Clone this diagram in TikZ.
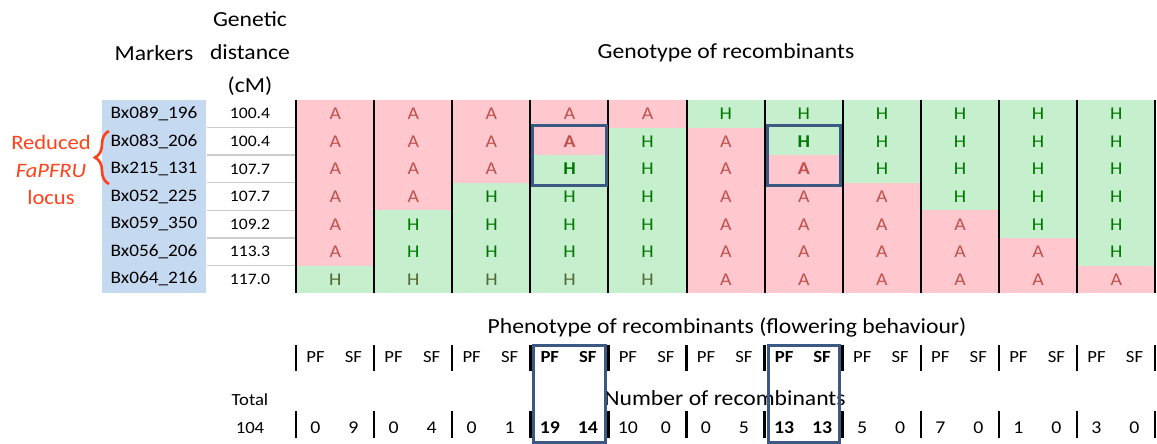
\documentclass[tikz,border=0pt]{standalone}
\usepackage{fontspec}
\setmainfont{Carlito}[FakeStretch=1.1]
\usetikzlibrary{positioning,fit,decorations.pathreplacing}
\definecolor{pinkfill}{RGB}{255,199,206}
\definecolor{greenfill}{RGB}{198,239,206}
\definecolor{markerblue}{RGB}{197,217,241}
\definecolor{Ared}{RGB}{192,80,77}
\definecolor{Hgreen}{RGB}{0,120,0}
\definecolor{Holive}{RGB}{84,104,50}
\definecolor{boxblue}{RGB}{59,89,130}
\definecolor{locusred}{RGB}{255,64,25}

\begin{document}
\begin{tikzpicture}[x=1pt, y=-1pt,
    head/.style={font=\fontsize{21.5}{33}\selectfont, align=center},
    marker/.style={font=\fontsize{17.5}{20}\selectfont},
    dist/.style={font=\fontsize{16}{18}\selectfont},
    cell/.style={anchor=north west, inner sep=0pt, minimum width=78.1pt, minimum height=27.57pt, font=\fontsize{18}{20}\selectfont},
    cellA/.style={cell, fill=pinkfill, text=Ared, node contents=A},
    cellAb/.style={cellA, font=\fontsize{18}{20}\selectfont\bfseries},
    cellH/.style={cell, fill=greenfill, text=Hgreen, node contents=H},
    cellHb/.style={cellH, font=\fontsize{18}{20}\selectfont\bfseries},
    cellHo/.style={cellH, text=Holive},
    pfn/.style={font=\fontsize{17}{19}\selectfont},
    pfb/.style={font=\fontsize{17}{19}\selectfont\bfseries},
    numn/.style={font=\fontsize{18}{20}\selectfont},
    numb/.style={font=\fontsize{18}{20}\selectfont\bfseries},
    colrule/.style={line width=2pt, black},
    pickbox/.style={draw=boxblue, line width=3pt}]
    \useasboundingbox (0,0) rectangle (1157,444);

    % headings
    \node[head] (markers) at (154,53) {Markers};
    \node[head] (gendist) at (250,54) {Genetic\\distance\\(cM)};
    \node[head] (genotype) at (726,53) {Genotype of recombinants};
    \node[head, text=locusred, font=\fontsize{20.5}{27.5}\selectfont] (locus) at (51,170) {Reduced\\\textit{FaPFRU}\\locus};

    % markers and distances
    \fill[markerblue] (102,100) rectangle (206,293);
    \draw[locusred, line width=2.6pt, decorate, decoration={brace, amplitude=14pt}] (109,184) -- (109,131);
    \foreach \m/\d [count=\j] in {Bx089\_196/100.4, Bx083\_206/100.4, Bx215\_131/107.7, Bx052\_225/107.7, Bx059\_350/109.2, Bx056\_206/113.3, Bx064\_216/117.0}
    {
        \node[marker] (m\j) at (154,{113.8+(\j-1)*27.57}) {\m};
        \node[dist] (d\j) at (250,{113.8+(\j-1)*27.57}) {\d};
    }
    \foreach \j in {1,...,6}
        \draw[black!20, line width=1.5pt] (207,{100+\j*27.57}) -- (295,{100+\j*27.57});

    % genotype grid
    \foreach \col [count=\i] in {{A,A,A,A,A,A,Ho}, {A,A,A,A,H,H,Ho}, {A,A,A,H,H,H,Ho}, {A,Ab,Hb,H,H,H,Ho}, {A,H,H,H,H,H,Ho}, {H,A,A,A,A,A,A}, {H,Hb,Ab,A,A,A,A}, {H,H,H,A,A,A,A}, {H,H,H,H,A,A,A}, {H,H,H,H,H,A,A}, {H,H,H,H,H,H,A}}
        \foreach \g [count=\j] in \col
            \node (c-\i-\j) at ({296+(\i-1)*78.1},{100+(\j-1)*27.57}) [cell\g];
    \foreach \k in {0,...,11}
        \draw[colrule] ({296+\k*78.1},100) -- ({296+\k*78.1},293);
    \node[pickbox, inner xsep=-2.5pt, inner ysep=2.5pt, fit=(c-4-2)(c-4-3)] (pick1) {};
    \node[pickbox, inner xsep=-2.5pt, inner ysep=2.5pt, fit=(c-7-2)(c-7-3)] (pick2) {};

    % phenotypes and counts
    \node[head] (phenotype) at (727,327) {Phenotype of recombinants (flowering behaviour)};
    \node[head] (number) at (725,398) {Number of recombinants};
    \node[numn, font=\fontsize{17}{19}\selectfont] (total) at (250,400) {Total};
    \node[numn, font=\fontsize{17}{19}\selectfont] (sum) at (250,428) {104};
    \foreach \p/\s/\w [count=\i] in {0/9/n, 0/4/n, 0/1/n, 19/14/b, 10/0/n, 0/5/n, 13/13/b, 5/0/n, 7/0/n, 1/0/n, 3/0/n}
    {
        \node[pf\w] (pf-\i) at ({296+(\i-1)*78.1+19.5},357) {PF};
        \node[pf\w] (sf-\i) at ({296+(\i-1)*78.1+57.5},357) {SF};
        \node[num\w] (np-\i) at ({296+(\i-1)*78.1+19.5},428) {\p};
        \node[num\w] (ns-\i) at ({296+(\i-1)*78.1+57.5},428) {\s};
    }
    \foreach \k in {0,...,11}
    {
        \draw[line width=2.5pt] ({296+\k*78.1},345) -- ({296+\k*78.1},371);
        \draw[line width=2.5pt] ({296+\k*78.1},411) -- ({296+\k*78.1},438);
    }
    \draw[pickbox] (533.5,345) rectangle (605.5,442);
    \draw[pickbox] (768.5,345) rectangle (839.5,442);
\end{tikzpicture}
\end{document}
